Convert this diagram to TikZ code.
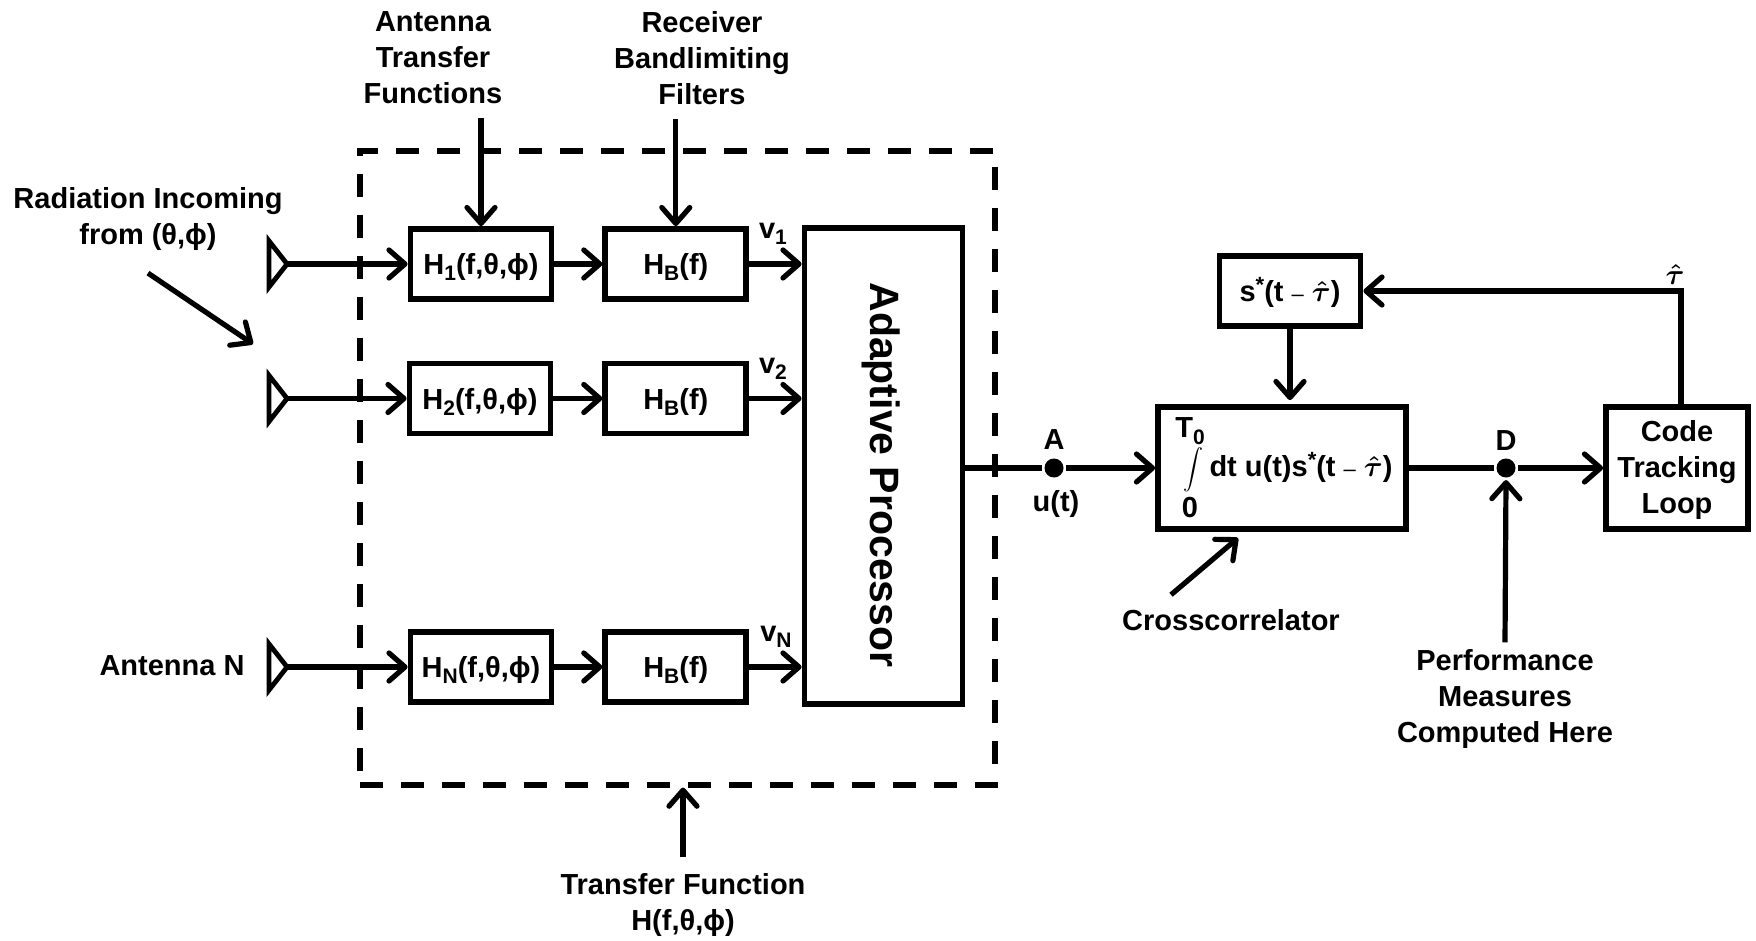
\documentclass[tikz,border=0pt]{standalone}
\usepackage{fontspec}
\setmainfont{Liberation Sans}
\usetikzlibrary{shapes.geometric}
\usetikzlibrary{positioning}
\usetikzlibrary{arrows.meta}
\newcommand{\subs}[1]{\raisebox{-.4ex}[0pt][0pt]{\fontsize{10.5}{12}\selectfont #1}}
\newcommand{\sups}[1]{\raisebox{.6ex}[0pt][0pt]{\fontsize{11}{12}\selectfont #1}}
\newcommand{\tauhat}{\mbox{\boldmath$\hat{\tau}$}}
\newcommand{\thinminus}{{\mdseries\fontsize{11}{12}\selectfont --}}
\begin{document}
\begin{tikzpicture}[x=0.5pt,y=-0.5pt,->,
            >={Straight Barb[round,length=8pt,width=14pt]},
            line width=2.6pt,
            node distance = 24pt,
            every node/.style = {font=\fontsize{14.5}{18}\selectfont\bfseries,align=center,inner sep=0pt},
            box/.style = {draw,line width=2.9pt,minimum width=70.5pt,minimum height=35pt,text depth=0pt},
            antenna/.style = {draw,line width=2.4pt,outer sep=0pt,isosceles triangle,isosceles triangle stretches,
                minimum width=23pt,minimum height=9pt,shape border rotate=0},
            joint/.style = {circle,fill=black,minimum size=9.5pt}]
            \useasboundingbox (0,0) rectangle (1756,941);
            % frame
            \node[draw,dashed,dash pattern=on 11.5pt off 9pt,line width=2.6pt,minimum width=317.5pt,
                minimum height=317pt] (frame) at (677.5,468) {};
            % branches
            \node[box](h1) at (481,264) {H\subs{1}(f,θ,ϕ)};
            \node[box,right=24pt of h1](hb1) {H\subs{B}(f)};
            \node[box](h2) at (480,398.5) {H\subs{2}(f,θ,ϕ)};
            \node[box,right=24.5pt of h2](hb2) {H\subs{B}(f)};
            \node[box](hn) at (481,667) {H\subs{N}(f,θ,ϕ)};
            \node[box,right=24pt of hn](hbn) {H\subs{B}(f)};
            \node[antenna](ant1) at (277,264) {};
            \node[antenna](ant2) at (277,398.5) {};
            \node[antenna](antn) at (277,667) {};
            \node[draw,line width=2.9pt,minimum width=79pt,minimum height=238pt](adapt) at (883.5,466)
                {};
            \node[rotate=-90,font=\fontsize{20.5}{22}\selectfont\bfseries](adapttext) at (881,475) {Adaptive Processor};
            % right part
            \node[joint](pa) at (1054,468) {};
            \node[joint](pd) at (1506,468) {};
            \node[draw,line width=2.9pt,minimum width=124pt,minimum height=61pt](corr) at (1282,468) {};
            \node[box](sbox) at (1290,291) {s\sups{*}(t \thinminus{} \tauhat)};
            \node[draw,line width=2.9pt,minimum width=71pt,minimum height=61pt](code) at (1677,468) {};
            \node(codetext) at (1677,470) {Code\\Tracking\\Loop};
            \node(intlab) at (1301,469) {dt u(t)s\sups{*}(t \thinminus{} \tauhat)};
            \node(intup) at (1190,428) {T\subs{0}};
            \node(intsign) at (1193,470) {$\displaystyle\int$};
            \node(intlow) at (1190,508) {0};
            % labels
            \node(atf) at (433,58) {Antenna\\Transfer\\Functions};
            \node(rbf) at (702,58) {Receiver\\Bandlimiting\\Filters};
            \node(rad) at (148,219) {Radiation Incoming\\from (θ,ϕ)};
            \node(antlab) at (172,666) {Antenna N};
            \node(v1) at (773,231) {v\subs{1}};
            \node(v2) at (773,366) {v\subs{2}};
            \node(vn) at (776,634) {v\subs{N}};
            \node(alab) at (1054,440) {A};
            \node(ulab) at (1056,504) {u(t)};
            \node(dlab) at (1506,441) {D};
            \node(taulab) at (1675,275) {\tauhat};
            \node(cross) at (1231,620) {Crosscorrelator};
            \node(perf) at (1505,699) {Performance\\Measures\\Computed Here};
            \node(tf) at (683,905) {Transfer Function\\H(f,θ,ϕ)};
            \coordinate (radend) at (253,344);
            \coordinate (crossend) at (1238,538);
            \path[]
                (ant1.east) edge (h1.west)
                (ant2.east) edge (h2.west)
                (antn.east) edge (hn.west)
                (h1) edge (hb1)
                (h2) edge (hb2)
                (hn) edge (hbn)
                (hb1.east) edge (hb1.east -| adapt.west)
                (hb2.east) edge (hb2.east -| adapt.west)
                (hbn.east) edge (hbn.east -| adapt.west)
                (pa) edge (corr.west)
                (pd) edge (code.west)
                (sbox.south) edge[shorten >=2pt] (sbox.south |- corr.north);
            \draw[-] (adapt.east |- pa) -- (pa);
            \draw[-] (corr.east |- pd) -- (pd);
            \draw ([xshift=2pt]code.north) |- (sbox.east);
            \draw ([yshift=-5.8pt]atf.south -| h1) -- (h1.north);
            \draw ([yshift=-5.8pt]rbf.south -| hb1) -- (hb1.north);
            \draw ([yshift=-10pt]rad.south) -- (radend);
            \draw ([xshift=-30pt,yshift=6pt]cross.north) -- (crossend);
            \draw ([yshift=2.3pt]perf.north) -- (pd.south);
            \draw ([yshift=6.8pt]tf.north) -- (tf.north |- frame.south);
        \end{tikzpicture}
\end{document}
